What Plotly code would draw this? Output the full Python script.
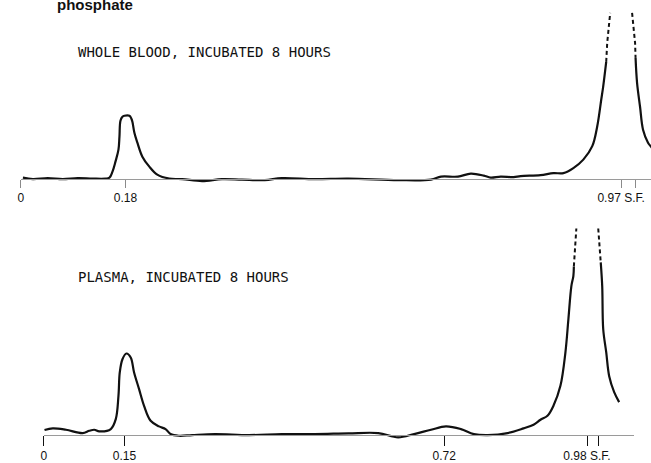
import plotly.graph_objects as go

# ---------------- data (distance along strip in mm, deflection in mm) ----------------
# Whole blood, incubated 8 hours
wb_dist = [0.4, 2.4, 5.4, 8.4, 11.4, 14.4, 17.0, 17.8, 18.4, 19.0, 19.6, 19.8, 20.0, 20.4, 20.8,
           21.8, 22.2, 22.4, 22.8, 23.4, 24.4, 25.8, 27.4, 29.8, 32.4, 36.4, 40.4, 44.4, 49.0,
           52.4, 59.0, 65.8, 75.8, 82.4, 84.4, 87.8, 90.4, 93.0, 94.4, 96.4, 99.0, 100.4,
           104.4, 107.0, 109.0, 111.0, 113.0, 114.8, 115.8, 116.6, 117.0, 117.6]
wb_signal = [0.2, -0.1, 0.1, -0.1, 0.1, 0.0, 0.0, 0.2, 1.4, 3.4, 5.8, 8.4, 11.6, 12.4, 12.6,
             12.6, 12.0, 11.4, 9.2, 7.2, 4.4, 2.4, 0.8, 0.0, -0.1, -0.5, -0.1, -0.2, -0.3,
             0.1, -0.1, 0.0, -0.3, -0.2, 0.4, 0.4, 1.0, 0.6, 0.2, 0.4, 0.3, 0.5,
             0.7, 1.1, 1.1, 2.1, 3.8, 6.5, 10.5, 15.8, 18.5, 23.4]
wb_tail_dist = [123.5, 123.8, 124.4, 125.0, 126.0, 126.6, 127.0]
wb_tail_signal = [24.2, 19.2, 14.4, 9.8, 7.2, 6.4, 5.8]
# off-scale part (drawn dashed)
wb_off_dist = [117.6, 117.8, 118.4, None, 122.8, 123.4, 123.5]
wb_off_signal = [23.4, 27.2, 33.2, None, 33.2, 27.2, 24.2]
wb_tickvals = [0, 21.0, 120.6, 123.5]
wb_ticktext = ["0", "0.18", "0.97 S.F.", ""]

# Plasma, incubated 8 hours
pl_dist = [0.14, 1.8, 4.46, 7.8, 9.14, 10.14, 11.14, 13.46, 14.46, 15.0, 15.26, 15.8, 16.6,
           17.46, 18.14, 19.14, 20.14, 21.46, 23.14, 24.46, 25.46, 27.14, 29.8, 34.4, 41.2,
           47.8, 54.4, 61.2, 67.2, 71.2, 74.4, 77.8, 80.8, 83.8, 86.4, 89.2, 93.2, 96.4,
           98.4, 99.8, 101.2, 102.4, 103.8, 104.8, 105.4, 106.0, 106.4, 106.5]
pl_signal = [0.9, 1.24, 0.96, 0.3, 0.76, 0.96, 0.64, 1.1, 3.1, 7.76, 12.44, 15.1, 16.24,
             15.44, 12.44, 9.1, 5.76, 2.76, 1.64, 1.1, 0.1, -0.24, -0.1, 0.1, -0.1,
             0.1, 0.1, 0.24, 0.3, -0.56, 0.1, 0.96, 1.64, 1.1, 0.1, -0.1, 0.3, 1.24,
             1.96, 2.96, 3.76, 5.76, 9.76, 16.44, 23.1, 29.76, 31.76, 33.7]
pl_tail_dist = [111.9, 112.2, 112.4, 113.0, 113.6, 114.6, 115.6]
pl_tail_signal = [34.5, 29.7, 21.1, 16.5, 11.7, 8.5, 6.5]
pl_off_dist = [106.5, 106.8, 107.0, None, 111.4, 111.6, 111.9]
pl_off_signal = [33.7, 39.1, 41.3, None, 41.3, 38.1, 34.5]
pl_tickvals = [0, 16.2, 80.46, 109.14, 111.46]
pl_ticktext = ["0", "0.15", "0.72", "0.98 S.F.", ""]

title_text = "phosphate"
label_top = "WHOLE BLOOD, INCUBATED 8 HOURS"
label_bottom = "PLASMA, INCUBATED 8 HOURS"

# ---------------- figure ----------------
W, H = 651, 463
ink = "#111111"
fig = go.Figure()

solid = dict(color=ink, width=2.2)
dashed = dict(color=ink, width=2.0, dash="4px,3px")

fig.add_trace(go.Scatter(x=wb_dist, y=wb_signal, mode="lines", line=solid,
                         line_shape="spline", xaxis="x", yaxis="y", hoverinfo="skip"))
fig.add_trace(go.Scatter(x=wb_tail_dist, y=wb_tail_signal, mode="lines", line=solid,
                         line_shape="spline", xaxis="x", yaxis="y", hoverinfo="skip"))
fig.add_trace(go.Scatter(x=wb_off_dist, y=wb_off_signal, mode="lines", line=dashed,
                         connectgaps=False, xaxis="x", yaxis="y", hoverinfo="skip"))

fig.add_trace(go.Scatter(x=pl_dist, y=pl_signal, mode="lines", line=solid,
                         line_shape="spline", xaxis="x2", yaxis="y2", hoverinfo="skip"))
fig.add_trace(go.Scatter(x=pl_tail_dist, y=pl_tail_signal, mode="lines", line=solid,
                         line_shape="spline", xaxis="x2", yaxis="y2", hoverinfo="skip"))
fig.add_trace(go.Scatter(x=pl_off_dist, y=pl_off_signal, mode="lines", line=dashed,
                         connectgaps=False, xaxis="x2", yaxis="y2", hoverinfo="skip"))

tickfont = dict(family="Liberation Sans, Arial, sans-serif", size=12, color=ink)

fig.update_layout(
    width=W, height=H,
    margin=dict(l=0, r=0, t=0, b=0),
    paper_bgcolor="white", plot_bgcolor="white",
    showlegend=False,
    xaxis=dict(domain=[18 / W, 1], range=[0, 126.6], anchor="free", position=1 - 179 / H,
               showline=True, linecolor="#9a9a9a", linewidth=1, showgrid=False, zeroline=False,
               ticks="outside", ticklen=8, tickcolor="#8a8a8a", tickwidth=1,
               tickmode="array", tickvals=wb_tickvals, ticktext=wb_ticktext, tickfont=tickfont),
    yaxis=dict(domain=[0.51, 1], range=[-9.58, 35.8], visible=False, anchor="x"),
    xaxis2=dict(domain=[41 / W, 634 / W], range=[0, 118.6], anchor="free", position=1 - 435.5 / H,
                showline=True, linecolor="#9a9a9a", linewidth=1, showgrid=False, zeroline=False,
                ticks="outside", ticklen=10, tickcolor=ink, tickwidth=1,
                tickmode="array", tickvals=pl_tickvals, ticktext=pl_ticktext, tickfont=tickfont),
    yaxis2=dict(domain=[0, 0.51], range=[-5.5, 41.72], visible=False, anchor="x2"),
)

labfont = dict(family="DejaVu Sans Mono, monospace", size=14, color=ink)
fig.add_annotation(text=title_text, xref="paper", yref="paper", x=52 / W, y=1 - 5 / H,
                   xanchor="left", yanchor="middle", showarrow=False,
                   font=dict(family="Liberation Sans, Arial, sans-serif", size=15, color=ink,
                             weight="bold"))
fig.add_annotation(text=label_top, xref="paper", yref="paper", x=73 / W, y=1 - 52 / H,
                   xanchor="left", yanchor="middle", showarrow=False, font=labfont)
fig.add_annotation(text=label_bottom, xref="paper", yref="paper", x=73 / W, y=1 - 278 / H,
                   xanchor="left", yanchor="middle", showarrow=False, font=labfont)

fig.write_html("out.html", config={"displayModeBar": False, "staticPlot": True},
               post_script="document.body.style.margin='0';document.body.style.overflow='hidden';")
